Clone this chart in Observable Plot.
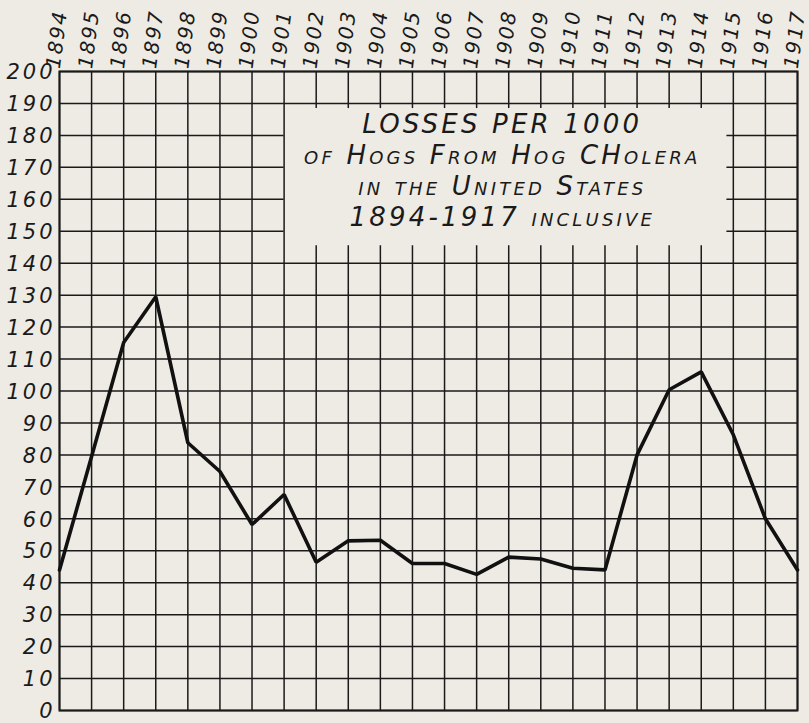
<!DOCTYPE html>
<html><head><meta charset="utf-8">
<script src="https://cdn.jsdelivr.net/npm/d3@7"></script>
<script src="https://cdn.jsdelivr.net/npm/@observablehq/plot@0.6"></script>
<style>
html,body{margin:0;padding:0;background:#eeebe4;}
.lbl text{letter-spacing:3px;}
.yr text{letter-spacing:2px;}
.ttl text{letter-spacing:3.2px;}
</style></head><body><div id="chart"></div>
<script>
const years = [1894,1895,1896,1897,1898,1899,1900,1901,1902,1903,1904,1905,1906,1907,1908,1909,1910,1911,1912,1913,1914,1915,1916,1917];
const losses = [44,79.5,115.2,129.5,83.8,74.8,58.2,67.6,46.4,53.1,53.3,46,46,42.6,48,47.4,44.5,44,80,100.4,106,86.3,60,44];
const yTicks = d3.range(0, 201, 10);
const titleLines = ["LOSSES PER 1000", "of Hogs From Hog CHolera", "in the United States", "1894-1917 inclusive"];

const data = years.map((yr, i) => ({year: yr, value: losses[i]}));

// grid segments, leaving a clear panel for the title
const boxX = [1901, 1915], boxY = [140, 190];
const vSegs = [];
years.forEach(yr => {
  if (yr > boxX[0] && yr < boxX[1]) {
    vSegs.push({x: yr, y1: 0, y2: boxY[0] + 5.5});
    vSegs.push({x: yr, y1: boxY[1] - 1.6, y2: 200});
  } else vSegs.push({x: yr, y1: 0, y2: 200});
});
const hSegs = [];
yTicks.forEach(v => {
  if (v > boxY[0] && v < boxY[1]) {
    hSegs.push({y: v, x1: 1894, x2: boxX[0]});
    hSegs.push({y: v, x1: boxX[1] - 0.2, x2: 1917});
  } else hSegs.push({y: v, x1: 1894, x2: 1917});
});

const ink = "#1a1a1a";
const font = "DejaVu Sans, Liberation Sans, sans-serif";

const chart = Plot.plot({
  width: 809,
  height: 723,
  marginLeft: 59,
  marginRight: 12,
  marginTop: 71,
  marginBottom: 13,
  style: {background: "#eeebe4", fontFamily: font},
  x: {domain: [1894, 1917], axis: null},
  y: {domain: [0, 200], axis: null},
  marks: [
    Plot.ruleX(vSegs, {x: "x", y1: "y1", y2: "y2", stroke: ink, strokeWidth: 1.5}),
    Plot.ruleY(hSegs, {y: "y", x1: "x1", x2: "x2", stroke: ink, strokeWidth: 1.5}),
    Plot.frame({stroke: ink, strokeWidth: 2}),
    Plot.line(data, {x: "year", y: "value", stroke: "#111", strokeWidth: 3.6, strokeLinejoin: "miter"}),
    Plot.text(yTicks, {x: 1894, y: d => d, text: d => String(d), textAnchor: "end", dx: -4, dy: 1,
      fontSize: 21, fontStyle: "oblique", fill: ink, className: "lbl"}),
    Plot.text(years, {x: d => d, y: 200, text: d => String(d), textAnchor: "start", lineAnchor: "middle",
      rotate: -83, dy: -3, dx: -6, fontSize: 20, fontStyle: "oblique", fill: ink, className: "yr"}),
    Plot.text(titleLines, {x: 1907.8, y: (d, i) => 183.5 - i * 9.75, text: d => d, textAnchor: "middle",
      lineAnchor: "middle", fontSize: 26, fontStyle: "oblique", fontVariant: "small-caps", fill: ink, className: "ttl"})
  ]
});
document.getElementById("chart").appendChild(chart);
</script>
</body></html>
